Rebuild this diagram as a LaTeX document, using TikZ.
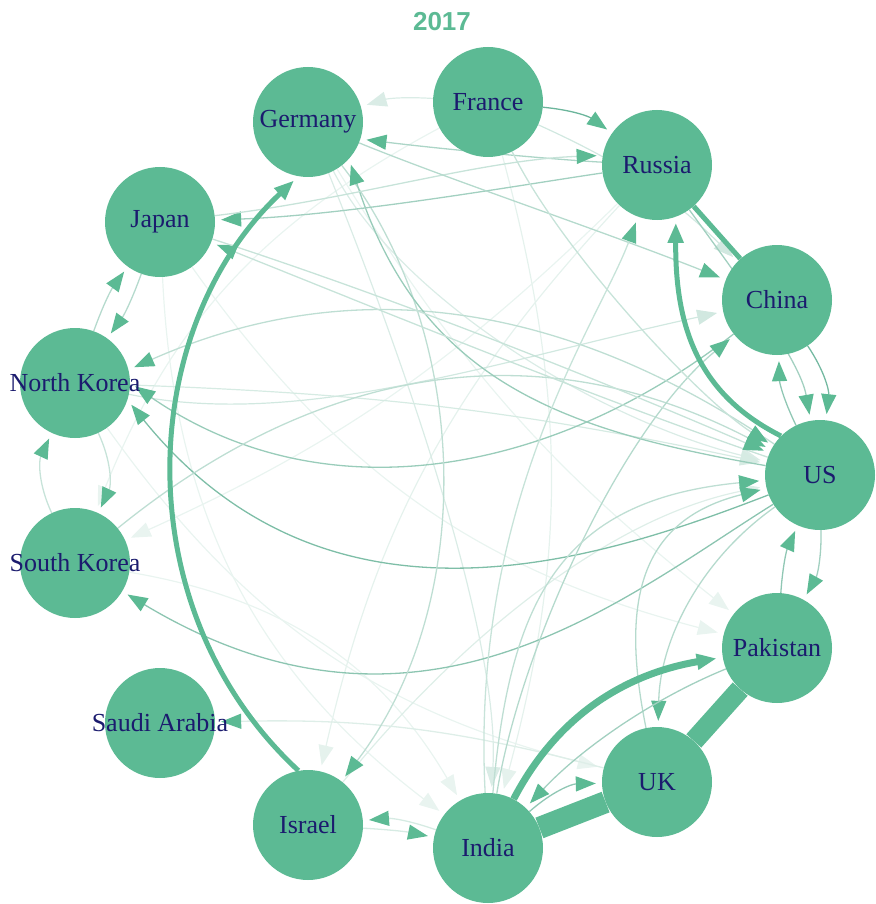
\documentclass[tikz,border=0pt]{standalone}
\usepackage{fontspec}
\setmainfont{Liberation Serif}
\newfontfamily\ttlfont{Liberation Sans}
\usetikzlibrary{arrows.meta}
\definecolor{ng}{HTML}{5CBA94}
\definecolor{nv}{HTML}{1B1B6E}
\definecolor{lc}{HTML}{46A282}
\pgfdeclarelayer{bg}
\pgfsetlayers{bg,main}
\newcommand{\mklab}[1]{\makebox[0pt][c]{#1}}
\tikzset{
  nd/.style={circle,fill=ng,minimum size=110pt,inner sep=0pt,text=nv,font=\fontsize{26}{28}\selectfont},
  ed/.style={draw=lc!#1!white,line width=1.3pt,shorten >=6pt,-{Triangle[length=20pt,width=15pt,color=ng]}},
  ed/.default=60,
  fe/.style={draw=lc!#1!white,line width=1.2pt,shorten >=6pt,-{Triangle[length=20pt,width=15pt,color=lc!#1!white]}},
  thk/.style={draw=ng,line width=#1,shorten >=6pt,-{Triangle[length=20pt,width=15pt,color=ng]}},
  band/.style={draw=ng,line width=#1},
  ttl/.style={text=ng,font=\ttlfont\bfseries\fontsize{26}{28}\selectfont}
}
\begin{document}
\begin{tikzpicture}[x=1pt,y=-1pt]
\useasboundingbox (0,0) rectangle (875,904);
\node[ttl] (title) at (442,22) {2017};
% nodes
\node[nd] (FR) at (488,102) {\mklab{France}};
\node[nd] (GE) at (308,122) {\mklab{Germany}};
\node[nd] (RU) at (657,165) {\mklab{Russia}};
\node[nd] (JA) at (160,222) {\mklab{Japan}};
\node[nd] (CH) at (777,300) {\mklab{China}};
\node[nd] (NK) at (75,383) {\mklab{North Korea}};
\node[nd] (US) at (820,475) {\mklab{US}};
\node[nd] (SK) at (75,563) {\mklab{South Korea}};
\node[nd] (PK) at (777,648) {\mklab{Pakistan}};
\node[nd] (SA) at (160,723) {\mklab{Saudi Arabia}};
\node[nd] (UK) at (657,782) {\mklab{UK}};
\node[nd] (IS) at (308,825) {\mklab{Israel}};
\node[nd] (IN) at (488,848) {\mklab{India}};
\begin{pgfonlayer}{bg}
% faint background edges
\draw[fe=12] (JA) to[bend right=20] (PK);
\draw[fe=12] (NK) to[bend right=20] (UK);
\draw[fe=12] (SK) to[bend left=25] (IN);
\draw[fe=14] (FR) to[bend left=15] (IN);
\draw[fe=14] (RU) to[bend right=15] (IS);
\draw[fe=12] (GE) to[bend right=10] (PK);
\draw[fe=12] (JA) to[bend right=25] (IN);
\draw[fe=12] (FR) to[bend right=20] (SK);
\draw[fe=12] (RU) to[bend left=10] (SK);
\draw[fe=20] (FR) to[bend right=10] (GE);
\draw[fe=20] (GE) .. controls (420,400) and (500,650) .. (IN);
\draw[fe=18] (IS) .. controls (450,650) and (600,520) .. (US);
\draw[fe=20] (GE) .. controls (400,300) and (600,420) .. (US);
\draw[fe=22] (NK) to[bend left=5] (US);
\draw[fe=25] (NK) .. controls (300,430) and (500,360) .. (CH);
\draw[fe=25] (FR) to[bend left=10] (CH);
% medium edges
\draw[ed=18] (UK) to[bend right=8] (SA);
\draw[ed=22] (IN) to[bend right=12] (IS);
\draw[ed=22] (IS) to[bend left=4] (IN);
\draw[ed=70] (US) .. controls (600,560) and (330,650) .. (NK.-18);
\draw[ed=55] (CH) .. controls (560,470) and (330,520) .. (NK.0);
\draw[ed=35] (US) .. controls (620,340) and (400,250) .. (NK.14);
\draw[ed=35] (SK) .. controls (300,380) and (520,320) .. (US);
\draw[ed=62] (US) .. controls (620,600) and (420,770) .. (SK);
\draw[ed=35] (GE) .. controls (470,330) and (480,600) .. (IS);
\draw[ed=55] (US) .. controls (560,430) and (420,380) .. (GE.-42);
\draw[ed=50] (RU) .. controls (520,185) and (350,215) .. (JA);
\draw[ed=30] (US) .. controls (600,400) and (380,310) .. (JA);
\draw[ed=40] (NK) to[bend left=8] (JA);
\draw[ed=40] (JA) to[bend left=8] (NK);
\draw[ed=30] (SK) to[bend left=25] (NK);
\draw[ed=30] (NK) to[bend left=25] (SK);
\draw[ed=80] (FR) to[bend left=15] (RU);
\draw[ed=45] (RU) .. controls (560,160) and (450,150) .. (GE.-18);
\draw[ed=30] (JA) .. controls (350,200) and (480,160) .. (RU.170);
\draw[ed=50] (RU) .. controls (740,280) and (800,360) .. (US);
\draw[ed=75] (CH) to[bend left=20] (US);
\draw[ed=60] (US) to[bend left=12] (CH);
\draw[ed=40] (IN) .. controls (520,650) and (620,430) .. (CH);
\draw[ed=40] (GE) .. controls (450,180) and (600,230) .. (CH);
\draw[ed=30] (IN) .. controls (470,500) and (600,320) .. (RU);
\draw[ed=35] (IN) .. controls (510,600) and (560,500) .. (US);
\draw[ed=40] (UK) .. controls (620,600) and (640,520) .. (US);
\draw[ed=60] (PK) to[bend left=10] (US);
\draw[ed=50] (US) to[bend left=15] (PK);
\draw[ed=40] (US) .. controls (700,560) and (660,640) .. (UK);
\draw[ed=60] (IN) to[bend left=20] (UK);
\draw[ed=50] (PK) .. controls (650,700) and (580,750) .. (IN);
\draw[ed=30] (JA) .. controls (400,300) and (600,380) .. (US);
\draw[ed=30] (FR) .. controls (560,250) and (700,400) .. (US);
% thick edges
\draw[thk=5pt] (IS.100) .. controls (125,610) and (135,330) .. (GE.-100);
\draw[thk=5pt] (US.135) .. controls (700,395) and (675,330) .. (RU.-70);
\draw[band=5pt] (CH) -- (RU);
\draw[thk=7pt] (IN) .. controls (555,720) and (620,675) .. (PK);
\draw[band=22pt] (UK) -- (IN);
\draw[band=20pt] (UK) -- (PK);
\end{pgfonlayer}
\end{tikzpicture}
\end{document}
